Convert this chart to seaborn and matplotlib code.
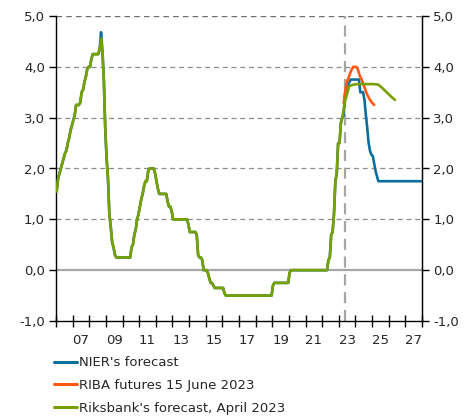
import numpy as np
import pandas as pd
import matplotlib
matplotlib.use("Agg")
import matplotlib.pyplot as plt
import seaborn as sns
from matplotlib.ticker import FuncFormatter, FixedLocator

# ---- Repo rate outcome, monthly averages (per cent), Jan 2006 - May 2023
h2006 = [1.55, 1.80, 1.90, 2.00, 2.10, 2.20, 2.30, 2.35, 2.50, 2.60, 2.75, 2.85]
h2007 = [2.95, 3.05, 3.25, 3.25, 3.25, 3.30, 3.50, 3.55, 3.70, 3.80, 3.95, 4.00]
h2008 = [4.00, 4.15, 4.25, 4.25, 4.25, 4.25, 4.25, 4.35, 4.68, 4.30, 3.75, 2.80]
h2009 = [2.20, 1.80, 1.10, 0.85, 0.55, 0.45, 0.30, 0.25, 0.25, 0.25, 0.25, 0.25]
h2010 = [0.25, 0.25, 0.25, 0.25, 0.25, 0.25, 0.45, 0.50, 0.70, 0.80, 1.00, 1.10]
h2011 = [1.25, 1.40, 1.50, 1.65, 1.75, 1.75, 1.95, 2.00, 2.00, 2.00, 2.00, 1.90]
h2012 = [1.75, 1.60, 1.50, 1.50, 1.50, 1.50, 1.50, 1.50, 1.35, 1.25, 1.25, 1.15]
h2013 = [1.00, 1.00, 1.00, 1.00, 1.00, 1.00, 1.00, 1.00, 1.00, 1.00, 1.00, 0.90]
h2014 = [0.75, 0.75, 0.75, 0.75, 0.75, 0.70, 0.30, 0.25, 0.25, 0.20, 0.00, 0.00]
h2015 = [0.00, -0.05, -0.15, -0.25, -0.25, -0.30, -0.35, -0.35, -0.35, -0.35, -0.35, -0.35]
h2016 = [-0.35, -0.45, -0.50, -0.50, -0.50, -0.50, -0.50, -0.50, -0.50, -0.50, -0.50, -0.50]
h2017 = [-0.50] * 12
h2018 = [-0.50] * 12
h2019 = [-0.30, -0.25, -0.25, -0.25, -0.25, -0.25, -0.25, -0.25, -0.25, -0.25, -0.25, -0.25]
h2020 = [-0.05, 0.00, 0.00, 0.00, 0.00, 0.00, 0.00, 0.00, 0.00, 0.00, 0.00, 0.00]
h2021 = [0.00] * 12
h2022 = [0.00, 0.00, 0.00, 0.00, 0.20, 0.25, 0.70, 0.75, 1.10, 1.75, 1.90, 2.50]
h2023 = [2.50, 2.90, 3.00, 3.05, 3.45]

# ---- NIER's forecast, monthly, Jun 2023 - Dec 2027
nier_2023 = [3.50, 3.60, 3.70, 3.75, 3.75, 3.75, 3.75]
nier_2024 = [3.75, 3.75, 3.75, 3.50, 3.50, 3.50, 3.35, 3.05, 2.80, 2.50, 2.35, 2.27]
nier_2025 = [2.25, 2.10, 1.95, 1.85, 1.75, 1.75, 1.75, 1.75, 1.75, 1.75, 1.75, 1.75]
nier_2026 = [1.75] * 12
nier_2027 = [1.75] * 12

# ---- RIBA futures 15 June 2023, monthly, Apr 2023 - Feb 2025
riba_vals = [3.28, 3.50, 3.67, 3.75, 3.82, 3.90, 3.96, 4.00, 4.00,
             4.00, 3.97, 3.88, 3.80, 3.75, 3.67, 3.60, 3.52, 3.45, 3.40, 3.35, 3.31,
             3.28, 3.25]

# ---- Riksbank's forecast, April 2023, quarterly, 2023Q2 - 2026Q2
rb_quarters = ["2023Q2", "2023Q3", "2023Q4", "2024Q1", "2024Q2", "2024Q3", "2024Q4",
               "2025Q1", "2025Q2", "2025Q3", "2025Q4", "2026Q1", "2026Q2"]
rb_vals = [3.33, 3.62, 3.65, 3.66, 3.66, 3.66, 3.66, 3.66, 3.65, 3.58, 3.50, 3.42, 3.35]
# Riksbank's own history series tops out a little lower in Sep 2008
rb_peak_2008 = 4.55

COL_NIER = "#0b6f9c"
COL_RIBA = "#ff5a14"
COL_RB = "#78a000"


def month_pos(year, month):
    return year + (month - 0.5) / 12.0


def monthly(start_year, start_month, values):
    pos = []
    y, m = start_year, start_month
    for _ in values:
        pos.append(month_pos(y, m))
        m += 1
        if m > 12:
            m = 1
            y += 1
    return pos


def quarter_pos(q):
    return int(q[:4]) + (int(q[-1]) - 0.5) / 4.0


history = (h2006 + h2007 + h2008 + h2009 + h2010 + h2011 + h2012 + h2013 + h2014 +
           h2015 + h2016 + h2017 + h2018 + h2019 + h2020 + h2021 + h2022 + h2023)
hist_t = monthly(2006, 1, history)

nier = history + nier_2023 + nier_2024 + nier_2025 + nier_2026 + nier_2027
nier_t = monthly(2006, 1, nier)

riba_t = monthly(2023, 4, riba_vals)

rb_hist = list(history[:-2])          # outcome through Mar 2023
rb_hist[(2008 - 2006) * 12 + 8] = rb_peak_2008
rb = rb_hist + rb_vals
rb_t = hist_t[:-2] + [quarter_pos(q) for q in rb_quarters]

labels = ["NIER's forecast", "RIBA futures 15 June 2023", "Riksbank's forecast, April 2023"]
df = pd.concat([
    pd.DataFrame({"t": nier_t, "rate": nier, "series": labels[0]}),
    pd.DataFrame({"t": riba_t, "rate": riba_vals, "series": labels[1]}),
    pd.DataFrame({"t": rb_t, "rate": rb, "series": labels[2]}),
], ignore_index=True)

sns.set_style("ticks")
plt.rcParams["font.family"] = ["DejaVu Sans"]
FS = 9.5

fig = plt.figure(figsize=(4.75, 4.19), dpi=100)
ax = fig.add_axes([56 / 475, 1 - 321 / 419, (422 - 56) / 475, (321 - 16) / 419])

# reference lines behind the series
for yv in [1, 2, 3, 4]:
    ax.axhline(yv, color="#8c8c8c", lw=0.9, ls=(0, (4, 3)), zorder=1)
ax.axhline(5, color="#6e6e6e", lw=1.0, ls=(0, (4, 3)), zorder=1)
ax.axhline(0, color="#a6a6a6", lw=1.6, zorder=1)
ax.axvline(2023.37, color="#a6a6a6", lw=1.6, ls=(0, (5, 3)), zorder=1)

sns.lineplot(data=df, x="t", y="rate", hue="series", hue_order=labels,
             palette=[COL_NIER, COL_RIBA, COL_RB], estimator=None, sort=False,
             linewidth=1.9, ax=ax, zorder=3)

ax.set_xlim(2006, 2028)
ax.set_ylim(-1, 5)
ax.set_xlabel("")
ax.set_ylabel("")

comma = FuncFormatter(lambda v, p: f"{v:.1f}".replace(".", ","))
ax.set_yticks(np.arange(-1, 5.01, 1))
ax.yaxis.set_major_formatter(comma)

ax.xaxis.set_major_locator(FixedLocator(np.arange(2006, 2029, 1)))
ax.set_xticklabels([])
odd_years = np.arange(2007, 2028, 2)
ax.set_xticks(odd_years + 0.5, minor=True)
ax.set_xticklabels([f"{y % 100:02d}" for y in odd_years], minor=True)
ax.tick_params(axis="x", which="major", direction="inout", length=8, width=1, color="black")
ax.tick_params(axis="x", which="minor", length=0, pad=9, labelsize=FS)
ax.tick_params(axis="y", direction="out", length=5, width=1, color="black", labelsize=FS, pad=3)

for side in ["left", "right", "bottom"]:
    ax.spines[side].set_color("black")
    ax.spines[side].set_linewidth(1.0)
ax.spines["top"].set_visible(False)
ax.spines["right"].set_visible(True)

ax2 = ax.twinx()
ax2.set_ylim(-1, 5)
ax2.set_yticks(np.arange(-1, 5.01, 1))
ax2.yaxis.set_major_formatter(comma)
ax2.tick_params(axis="y", direction="out", length=5, width=1, color="black", labelsize=FS, pad=3)
ax2.spines["top"].set_visible(False)
ax2.spines["right"].set_color("black")
ax2.spines["left"].set_visible(False)
ax2.spines["bottom"].set_visible(False)

handles, hl = ax.get_legend_handles_labels()
ax.get_legend().remove()
leg = fig.legend(handles, hl, loc="upper left", bbox_to_anchor=(49 / 475, 1 - 351 / 419),
                 frameon=False, fontsize=FS, handlelength=1.75, handletextpad=0.1,
                 labelspacing=0.74, borderaxespad=0)
for line in leg.get_lines():
    line.set_linewidth(2.2)

fig.savefig("out.png", dpi=100)
